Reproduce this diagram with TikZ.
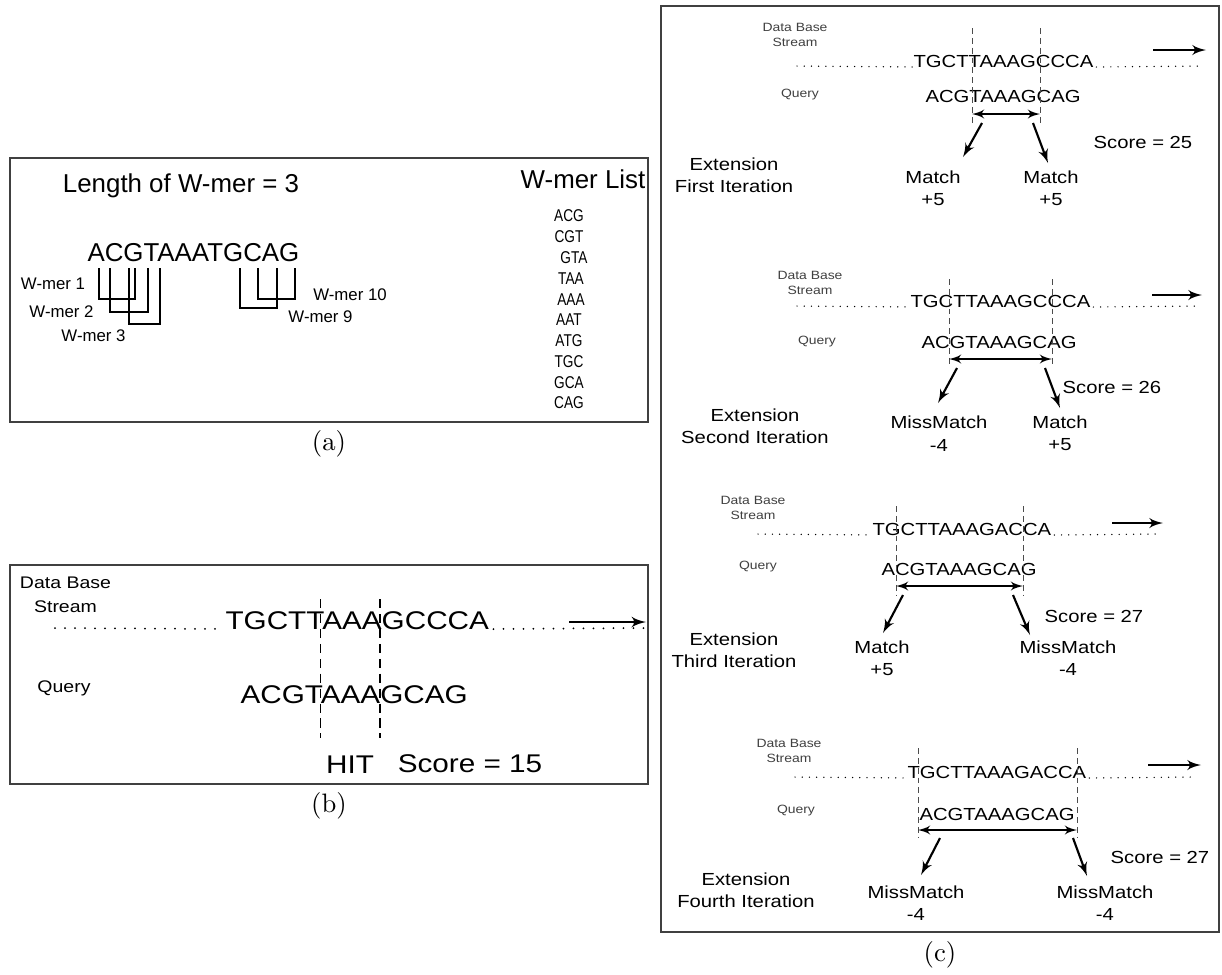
\documentclass[tikz,border=0pt]{standalone}
\usepackage{fontspec}
\usepackage{tikz}
\usetikzlibrary{shapes,arrows}
\newfontfamily\arialfont{Liberation Sans}
\newfontfamily\widefont[FakeStretch=1.16]{Liberation Sans}
\newfontfamily\narrowfont[FakeStretch=0.8]{Liberation Sans}

\begin{document}
\begin{tikzpicture}[x=0.375pt, y=-0.375pt,
		panel/.style={draw=black!75, line width=0.7pt},
		big/.style={font=\arialfont\fontsize{9.7}{11}\selectfont, inner sep=0},
		tag/.style={font=\arialfont\fontsize{6.3}{7.5}\selectfont, inner sep=0},
		wlist/.style={font=\narrowfont\fontsize{6.4}{7}\selectfont, inner sep=0},
		bseq/.style={font=\widefont\fontsize{9.6}{11}\selectfont, inner sep=0},
		bsmall/.style={font=\widefont\fontsize{6.3}{9}\selectfont, inner sep=0, align=center},
		cseq/.style={font=\widefont\fontsize{6.55}{8}\selectfont, inner sep=0},
		ctxt/.style={font=\widefont\fontsize{6.55}{8.4}\selectfont, inner sep=0, align=center},
		tiny/.style={font=\widefont\fontsize{4.5}{5.6}\selectfont, inner sep=0, align=center, text=black!75},
		subcap/.style={font=\fontsize{10}{12}\selectfont, inner sep=0},
		bracket/.style={draw, line width=0.4pt},
		bcut/.style={draw, line width=0.5pt, dash pattern=on 3.4pt off 2.2pt},
		cut/.style={draw=black!70, line width=0.35pt, dash pattern=on 2.2pt off 1.5pt},
		bleader/.style={draw, line width=0.75pt, line cap=round, dash pattern=on 0pt off 3.75pt},
		leader/.style={draw, line width=0.55pt, line cap=round, dash pattern=on 0pt off 2.7pt},
		line/.style={draw, -latex', line width=0.8pt},
		both/.style={draw, latex'-latex', line width=0.6pt}
	]
	\useasboundingbox (0,0) rectangle (1222,974);
	% Panel (a)
	\draw[panel] (10,158) rectangle (648,422);
	\node[big, anchor=base] (wlen) at (181,192.5) {Length of W-mer = 3};
	\node[big, anchor=base] (wlisthead) at (583,188) {W-mer List};
	\node[big, anchor=base west] (wseq) at (87,261) {ACGTAAATGCAG};
	\node[wlist] (w1) at (569,216) {ACG};
	\node[wlist] (w2) at (569,237) {CGT};
	\node[wlist] (w3) at (574,258) {GTA};
	\node[wlist] (w4) at (571,279) {TAA};
	\node[wlist] (w5) at (571,300) {AAA};
	\node[wlist] (w6) at (569,320) {AAT};
	\node[wlist] (w7) at (569,341) {ATG};
	\node[wlist] (w8) at (569,362) {TGC};
	\node[wlist] (w9) at (569,383) {GCA};
	\node[wlist] (w10) at (569,403) {CAG};
	\node[tag] (wm1) at (53,284) {W-mer 1};
	\node[tag] (wm2) at (61.5,312) {W-mer 2};
	\node[tag] (wm3) at (93.5,336) {W-mer 3};
	\node[tag] (wm10) at (350,295) {W-mer 10};
	\node[tag] (wm9) at (320.5,317) {W-mer 9};
	\draw[bracket] (99,268) |- (135,299) -- (135,268);
	\draw[bracket] (110,268) |- (148,312) -- (148,268);
	\draw[bracket] (129,268) |- (160,324) -- (160,268);
	\draw[bracket] (240,268) |- (277,308) -- (277,268);
	\draw[bracket] (258,268) |- (295,299) -- (295,268);
	\node[subcap] (capa) at (329,444) {(a)};

	% Panel (b)
	\draw[panel] (10,565) rectangle (648,784);
	\node[bsmall] (bdb) at (65.5,595) {Data Base\\Stream};
	\node[bsmall] (bqlabel) at (64,688) {Query};
	\node[bseq, anchor=base west] (bstream) at (225,629) {TGCTTAAAGCCCA};
	\node[bseq, anchor=base west] (bquery) at (240,703) {ACGTAAAGCAG};
	\node[bseq, anchor=base] (bhit) at (350,773) {HIT};
	\node[bseq, anchor=base] (bscore) at (470,772) {Score = 15};
	\coordinate (bdotL) at (55,628);
	\coordinate (bdotR) at (645,628);
	\coordinate (bflowL) at (569,622);
	\coordinate (bflowR) at (646,622);
	\path[bleader] (bdotL) -- ([xshift=-0.5pt]bstream.base west);
	\path[bleader] ([xshift=1.5pt]bstream.base east) -- (bdotR);
	\path[line, line width=0.9pt] (bflowL) -- (bflowR);
	\path[bcut] (320.7,599) -- (320.7,738);
	\path[bcut] (380,599) -- (380,738);
	\node[subcap] (capb) at (329,806) {(b)};

	% Panel (c)
	\draw[panel] (661,6) rectangle (1219,932);
	% First iteration
	\node[tiny] (i1db) at (795,34.5) {Data Base\\Stream};
	\node[tiny] (i1ql) at (800,95) {Query};
	\node[cseq, anchor=base west] (i1stream) at (913,67) {TGCTTAAAGCCCA};
	\node[cseq, anchor=base west] (i1query) at (925,102) {ACGTAAAGCAG};
	\node[ctxt] (i1score) at (1143,142) {Score = 25};
	\node[ctxt] (i1ext) at (734,175) {Extension\\First Iteration};
	\node[ctxt] (i1left) at (933,188) {Match\\+5};
	\node[ctxt] (i1right) at (1051,188) {Match\\+5};
	\path[leader] (797,66) -- (i1stream.base west);
	\path[leader] ([xshift=1pt]i1stream.base east) -- (1203,66);
	\path[line] (1153,50) -- (1206,50);
	\path[cut] (972,28) -- (972,123);
	\path[cut] (1040,28) -- (1040,123);
	\path[both] (972,114) -- (1040,114);
	\path[line] (982,123) -- (963,157);
	\path[line] (1033,123) -- (1048,163);
	% Second iteration
	\node[tiny] (i2db) at (810,282.5) {Data Base\\Stream};
	\node[tiny] (i2ql) at (817,342) {Query};
	\node[cseq, anchor=base west] (i2stream) at (910,307) {TGCTTAAAGCCCA};
	\node[cseq, anchor=base west] (i2query) at (921,348) {ACGTAAAGCAG};
	\node[ctxt] (i2score) at (1112,387) {Score = 26};
	\node[ctxt] (i2ext) at (755,426) {Extension\\Second Iteration};
	\node[ctxt] (i2left) at (939,433.5) {MissMatch\\-4};
	\node[ctxt] (i2right) at (1060,433.5) {Match\\+5};
	\path[leader] (797,306) -- (i2stream.base west);
	\path[leader] ([xshift=1pt]i2stream.base east) -- (1200,306);
	\path[line] (1152,295) -- (1202,295);
	\path[cut] (949,279) -- (949,367);
	\path[cut] (1052,279) -- (1052,367);
	\path[both] (949,359) -- (1052,359);
	\path[line] (957,368) -- (938,403);
	\path[line] (1045,368) -- (1060,408);
	% Third iteration
	\node[tiny] (i3db) at (753,507.5) {Data Base\\Stream};
	\node[tiny] (i3ql) at (758,567) {Query};
	\node[cseq, anchor=base west] (i3stream) at (872,535) {TGCTTAAAGACCA};
	\node[cseq, anchor=base west] (i3query) at (881,575) {ACGTAAAGCAG};
	\node[ctxt] (i3score) at (1094,616) {Score = 27};
	\node[ctxt] (i3ext) at (734,650) {Extension\\Third Iteration};
	\node[ctxt] (i3left) at (882,658) {Match\\+5};
	\node[ctxt] (i3right) at (1068,658) {MissMatch\\-4};
	\path[leader] (758,534) -- (i3stream.base west);
	\path[leader] ([xshift=1pt]i3stream.base east) -- (1160,534);
	\path[line] (1112,523) -- (1163,523);
	\path[cut] (896,506) -- (896,595);
	\path[cut] (1023,506) -- (1023,595);
	\path[both] (896,586) -- (1023,586);
	\path[line] (903,595) -- (883,633);
	\path[line] (1013,595) -- (1030,635);
	% Fourth iteration
	\node[tiny] (i4db) at (789,750.5) {Data Base\\Stream};
	\node[tiny] (i4ql) at (796,811) {Query};
	\node[cseq, anchor=base west] (i4stream) at (907,778) {TGCTTAAAGACCA};
	\node[cseq, anchor=base west] (i4query) at (919,820) {ACGTAAAGCAG};
	\node[ctxt] (i4score) at (1160,857) {Score = 27};
	\node[ctxt] (i4ext) at (746,890.5) {Extension\\Fourth Iteration};
	\node[ctxt] (i4left) at (916,903) {MissMatch\\-4};
	\node[ctxt] (i4right) at (1105,903) {MissMatch\\-4};
	\path[leader] (795,777) -- (i4stream.base west);
	\path[leader] ([xshift=1pt]i4stream.base east) -- (1197,777);
	\path[line] (1148,765) -- (1201,765);
	\path[cut] (918,748) -- (918,838);
	\path[cut] (1077,748) -- (1077,838);
	\path[both] (918,830) -- (1077,830);
	\path[line] (940,838) -- (921,875);
	\path[line] (1073,838) -- (1087,876);
	\node[subcap] (capc) at (940,955) {(c)};
\end{tikzpicture}
\end{document}
